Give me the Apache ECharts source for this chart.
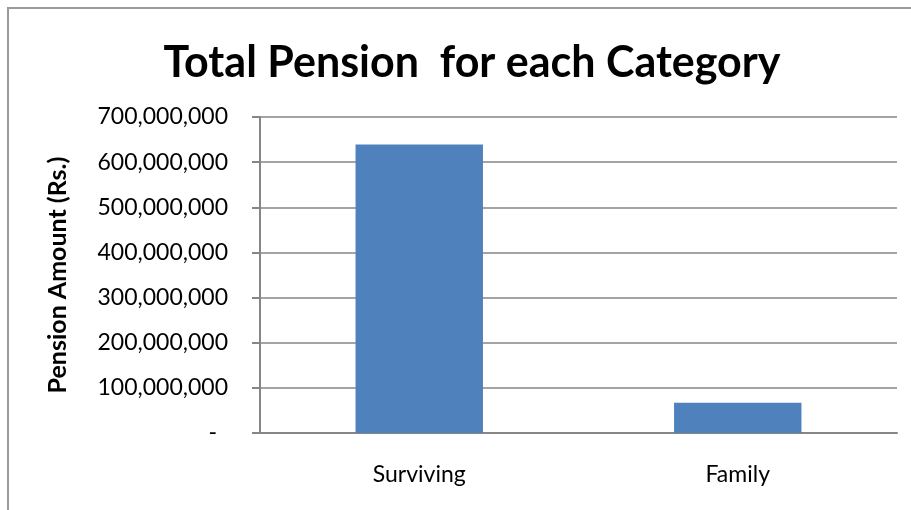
<!DOCTYPE html>
<html>
<head>
<meta charset="utf-8">
<title>Total Pension for each Category</title>
<script src="https://cdn.jsdelivr.net/npm/echarts@6/dist/echarts.min.js"></script>
<style>
  html, body { margin: 0; padding: 0; background: #ffffff; }
  #chart { width: 911px; height: 510px; }
</style>
</head>
<body>
<div id="chart"></div>
<script>
// Pension categories and their total amounts (Rs.)
const categories = ['Surviving', 'Family'];
const totalPension = [639000000, 67000000];

// Value axis range
const axisMin = 0;
const axisMax = 700000000;
const axisStep = 100000000;

const FONT = 'Lato';

function formatAmount(v) {
  if (v === 0) return '{dash|-}';
  return v.toString().replace(/\B(?=(\d{3})+(?!\d))/g, ',');
}

const chart = echarts.init(document.getElementById('chart'), null, { renderer: 'canvas' });

chart.setOption({
  backgroundColor: '#ffffff',
  animation: false,
  graphic: [{
    type: 'rect',
    shape: { x: 8, y: 8, width: 960, height: 560 },
    style: { fill: 'none', stroke: '#9a9a9a', lineWidth: 2 },
    silent: true,
    z: -10
  }],
  title: {
    text: 'Total Pension  for each Category',
    left: 467,
    textAlign: 'center',
    top: 37,
    textStyle: {
      fontFamily: FONT,
      fontWeight: 'bold',
      fontSize: 43,
      color: '#000000'
    }
  },
  grid: {
    left: 260,
    right: 14,
    top: 117,
    bottom: 77,
    containLabel: false
  },
  xAxis: {
    type: 'category',
    data: categories,
    axisLine: { lineStyle: { color: '#868686', width: 2 } },
    axisTick: { show: false },
    axisLabel: {
      margin: 30,
      fontFamily: FONT,
      fontSize: 23,
      color: '#000000'
    },
    splitLine: { show: false }
  },
  yAxis: {
    type: 'value',
    min: axisMin,
    max: axisMax,
    interval: axisStep,
    name: 'Pension Amount (Rs.)',
    nameLocation: 'middle',
    nameGap: 190,
    nameRotate: 90,
    nameTextStyle: {
      fontFamily: FONT,
      fontWeight: 'bold',
      fontSize: 25,
      color: '#000000'
    },
    axisLine: { show: true, lineStyle: { color: '#868686', width: 2 } },
    axisTick: { show: true, length: 8, lineStyle: { color: '#868686', width: 2 } },
    axisLabel: {
      margin: 32,
      fontFamily: FONT,
      fontSize: 23,
      color: '#000000',
      formatter: formatAmount,
      rich: {
        dash: { fontFamily: FONT, fontSize: 23, color: '#000000', padding: [0, 11, 0, 0] }
      }
    },
    splitLine: { show: true, lineStyle: { color: '#868686', width: 1.5 } }
  },
  series: [{
    type: 'bar',
    data: totalPension,
    barWidth: '40%',
    itemStyle: { color: '#4F81BD' }
  }]
});
</script>
</body>
</html>
